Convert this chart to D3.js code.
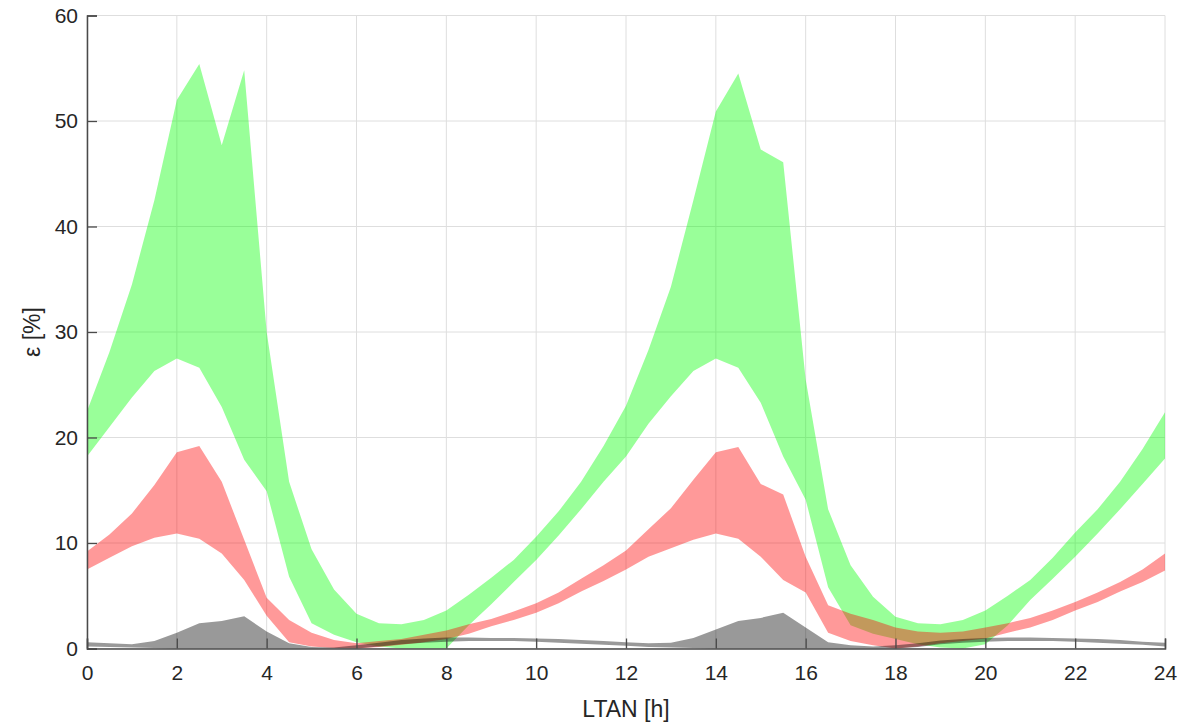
<!DOCTYPE html>
<html>
<head>
<meta charset="utf-8">
<script src="https://cdn.jsdelivr.net/npm/d3@7"></script>
<style>
  html, body { margin: 0; padding: 0; background: #ffffff; }
  svg { display: block; }
  text { font-family: "Liberation Sans", Arial, Helvetica, sans-serif; fill: #262626; }
</style>
</head>
<body>
<svg id="chart" width="1194" height="722"></svg>
<script>
// LTAN hours (0.5 h steps)
const hours = [0,0.5,1,1.5,2,2.5,3,3.5,4,4.5,5,5.5,6,6.5,7,7.5,8,8.5,9,9.5,10,10.5,11,11.5,12,
               12.5,13,13.5,14,14.5,15,15.5,16,16.5,17,17.5,18,18.5,19,19.5,20,20.5,21,21.5,22,22.5,23,23.5,24];

// Green band
const greenUpper = [22.5,28.1,34.5,42.5,52.0,55.4,47.7,54.8,30.0,15.8,9.4,5.6,3.3,2.4,2.3,2.7,3.6,5.1,6.7,8.4,10.6,13.0,15.8,19.2,23.0,
                    28.3,34.3,42.5,50.9,54.5,47.3,46.1,25.5,13.2,7.9,4.9,3.0,2.4,2.3,2.7,3.6,5.0,6.5,8.6,11.0,13.2,15.8,18.9,22.4];
const greenLower = [18.2,21.0,23.8,26.3,27.5,26.6,22.9,17.9,14.9,6.8,2.4,1.3,0.6,0.2,0,0,0,2.2,4.2,6.3,8.4,10.7,13.2,15.8,18.2,
                    21.3,23.9,26.3,27.5,26.6,23.3,18.2,14.1,5.8,2.2,1.4,0.9,0.4,0.1,0,0.4,2.2,4.6,6.6,8.7,10.9,13.2,15.6,18.0];

// Red band
const redUpper = [9.2,10.8,12.8,15.5,18.6,19.2,15.8,10.3,4.8,2.7,1.5,0.8,0.5,0.7,0.9,1.3,1.7,2.3,2.8,3.5,4.3,5.3,6.6,7.9,9.3,
                  11.3,13.3,16.0,18.6,19.1,15.6,14.6,8.7,4.1,3.3,2.7,2.0,1.6,1.5,1.6,2.0,2.4,2.9,3.6,4.4,5.3,6.3,7.5,9.0];
const redLower = [7.5,8.6,9.7,10.5,10.9,10.4,9.0,6.5,3.1,0.6,0.2,0.05,0,0.15,0.35,0.6,0.9,1.4,2.1,2.7,3.4,4.3,5.4,6.4,7.5,
                  8.7,9.5,10.3,10.9,10.4,8.7,6.5,5.3,1.5,0.7,0.3,0,0.2,0.5,0.7,0.95,1.5,2.0,2.7,3.6,4.4,5.4,6.3,7.4];

// Gray band
const grayUpper = [0.6,0.5,0.4,0.7,1.5,2.4,2.6,3.05,1.6,0.5,0.15,0.1,0.3,0.55,0.8,0.95,1.05,1.05,1.0,1.0,0.95,0.9,0.8,0.7,0.6,
                   0.5,0.55,1.0,1.8,2.6,2.9,3.4,2.0,0.6,0.3,0.2,0.3,0.5,0.75,0.9,1.0,1.05,1.05,1.0,0.95,0.9,0.8,0.65,0.55];
const grayLower = [0.2,0.15,0.1,0.05,0,0,0,0,0,0,0,0,0,0.2,0.4,0.55,0.65,0.7,0.7,0.7,0.65,0.55,0.45,0.35,0.25,
                   0.15,0.1,0.05,0,0,0,0,0,0,0,0,0,0.15,0.4,0.55,0.65,0.7,0.7,0.7,0.65,0.55,0.45,0.35,0.2];

const xTicks = [0,2,4,6,8,10,12,14,16,18,20,22,24];
const yTicks = [0,10,20,30,40,50,60];
const xLabel = "LTAN [h]";
const yLabel = "ε [%]";

const svg = d3.select("#chart");
const W = 1194, H = 722;
const m = { left: 87, right: 29, top: 15.5, bottom: 73.5 };
const iw = W - m.left - m.right, ih = H - m.top - m.bottom;

const x = d3.scaleLinear().domain([0, 24]).range([m.left, m.left + iw]);
const y = d3.scaleLinear().domain([0, 60]).range([m.top + ih, m.top]);

// grid
const grid = svg.append("g");
grid.selectAll("line.vx").data(xTicks).enter().append("line")
  .attr("x1", d => x(d)).attr("x2", d => x(d))
  .attr("y1", y(0)).attr("y2", y(60))
  .attr("stroke", "#dedede").attr("stroke-width", 1);
grid.selectAll("line.hy").data(yTicks).enter().append("line")
  .attr("x1", x(0)).attr("x2", x(24))
  .attr("y1", d => y(d)).attr("y2", d => y(d))
  .attr("stroke", "#dedede").attr("stroke-width", 1);

function band(lower, upper) {
  return d3.area()
    .x((d, i) => x(hours[i]))
    .y0((d, i) => y(lower[i]))
    .y1((d, i) => y(upper[i]))(hours);
}

svg.append("path").attr("d", band(greenLower, greenUpper)).attr("fill", "rgb(0,255,0)").attr("fill-opacity", 0.4);
svg.append("path").attr("d", band(redLower, redUpper)).attr("fill", "rgb(255,0,0)").attr("fill-opacity", 0.4);
svg.append("path").attr("d", band(grayLower, grayUpper)).attr("fill", "rgb(0,0,0)").attr("fill-opacity", 0.4);

// axes
const axisColor = "#4a4a4a";
const xAxis = d3.axisBottom(x).tickValues(xTicks).tickSize(-10).tickPadding(17).tickFormat(d3.format("d"));
const yAxis = d3.axisLeft(y).tickValues(yTicks).tickSize(-10).tickPadding(9).tickFormat(d3.format("d"));

const gx = svg.append("g").attr("transform", `translate(0,${y(0)})`).call(xAxis);
const gy = svg.append("g").attr("transform", `translate(${x(0)},0)`).call(yAxis);
[gx, gy].forEach(g => {
  g.select(".domain").attr("stroke", axisColor).attr("stroke-width", 1.5);
  g.selectAll(".tick line").attr("stroke", axisColor).attr("stroke-width", 1.3);
  g.selectAll(".tick text").attr("font-size", 21).attr("fill", "#262626")
    .attr("font-family", "'Liberation Sans', Arial, sans-serif");
});

svg.append("text")
  .attr("x", x(12)).attr("y", 717)
  .attr("text-anchor", "middle").attr("font-size", 23)
  .text(xLabel);

svg.append("text")
  .attr("transform", `translate(40,${y(30)}) rotate(-90)`)
  .attr("text-anchor", "middle").attr("font-size", 23)
  .text(yLabel);
</script>
</body>
</html>
